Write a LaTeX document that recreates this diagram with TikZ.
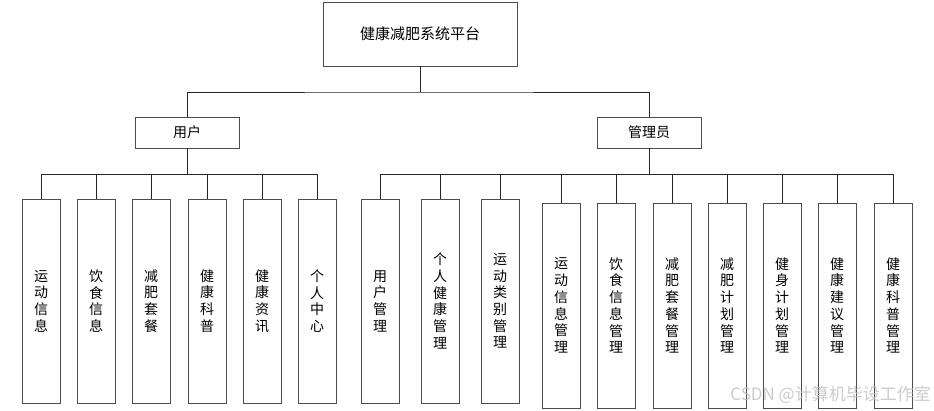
\documentclass[tikz,border=0pt]{standalone}
\usepackage{fontspec}
\setmainfont{Noto Sans CJK SC}
\newfontfamily\cjk{Noto Sans CJK SC}
\begin{document}
\begin{tikzpicture}[x=1pt,y=-1pt,
  box/.style={draw=black!70,line width=0.9pt,fill=white,inner sep=0pt,align=center,font=\cjk\fontsize{14}{16.7}\selectfont},
  vbox/.style={box,minimum width=38pt,text width=14pt},
  conn/.style={draw=black!85,line width=0.9pt}]
\useasboundingbox (0,0) rectangle (934,411);
\node[box,minimum width=194pt,minimum height=64pt,font=\cjk\fontsize{15}{18}\selectfont] (top) at (420,34) {健康减肥系统平台};
\node[box,minimum width=104pt,minimum height=31pt] (user) at (187,132.5) {用户};
\node[box,minimum width=104pt,minimum height=31pt] (admin) at (649,132.5) {管理员};
\coordinate (bus) at (420,92);
\draw[conn] (top.south) -- (bus);
\draw[conn] (user.north) |- (bus) -| (admin.north);
% user children
\foreach \n/\x/\t in {u1/41/{运\\动\\信\\息}, u2/96/{饮\\食\\信\\息}, u3/151/{减\\肥\\套\\餐}, u4/207/{健\\康\\科\\普}, u5/262/{健\\康\\资\\讯}, u6/317/{个\\人\\中\\心}}{
  \node[vbox,minimum height=204pt] (\n) at (\x,301) {\t};
  \draw[conn] (\n.north) -- (\n.north |- 0,174);
}
\draw[conn] (user.south) -- (user.south |- 0,174);
\draw[conn] (u1.north |- 0,174) -- (u6.north |- 0,174);
% admin children
\foreach \n/\x/\t in {a1/380/{用\\户\\管\\理}, a2/440/{个\\人\\健\\康\\管\\理}, a3/500/{运\\动\\类\\别\\管\\理}}{
  \node[vbox,minimum height=204pt] (\n) at (\x,301) {\t};
  \draw[conn] (\n.north) -- (\n.north |- 0,174);
}
\foreach \n/\x/\t in {a4/561/{运\\动\\信\\息\\管\\理}, a5/616/{饮\\食\\信\\息\\管\\理}, a6/672/{减\\肥\\套\\餐\\管\\理}, a7/727/{减\\肥\\计\\划\\管\\理}, a8/782/{健\\身\\计\\划\\管\\理}, a9/837/{健\\康\\建\\议\\管\\理}, a10/893/{健\\康\\科\\普\\管\\理}}{
  \node[vbox,minimum height=205pt] (\n) at (\x,305.5) {\t};
  \draw[conn] (\n.north) -- (\n.north |- 0,174);
}
\draw[conn] (admin.south) -- (admin.south |- 0,174);
\draw[conn] (a1.north |- 0,174) -- (a10.north |- 0,174);
\node[text=black!25,opacity=0.8,font=\cjk\fontsize{17}{20}\selectfont,anchor=east,inner sep=0pt] (wm) at (931,395) {CSDN @计算机毕设工作室};
\end{tikzpicture}
\end{document}
